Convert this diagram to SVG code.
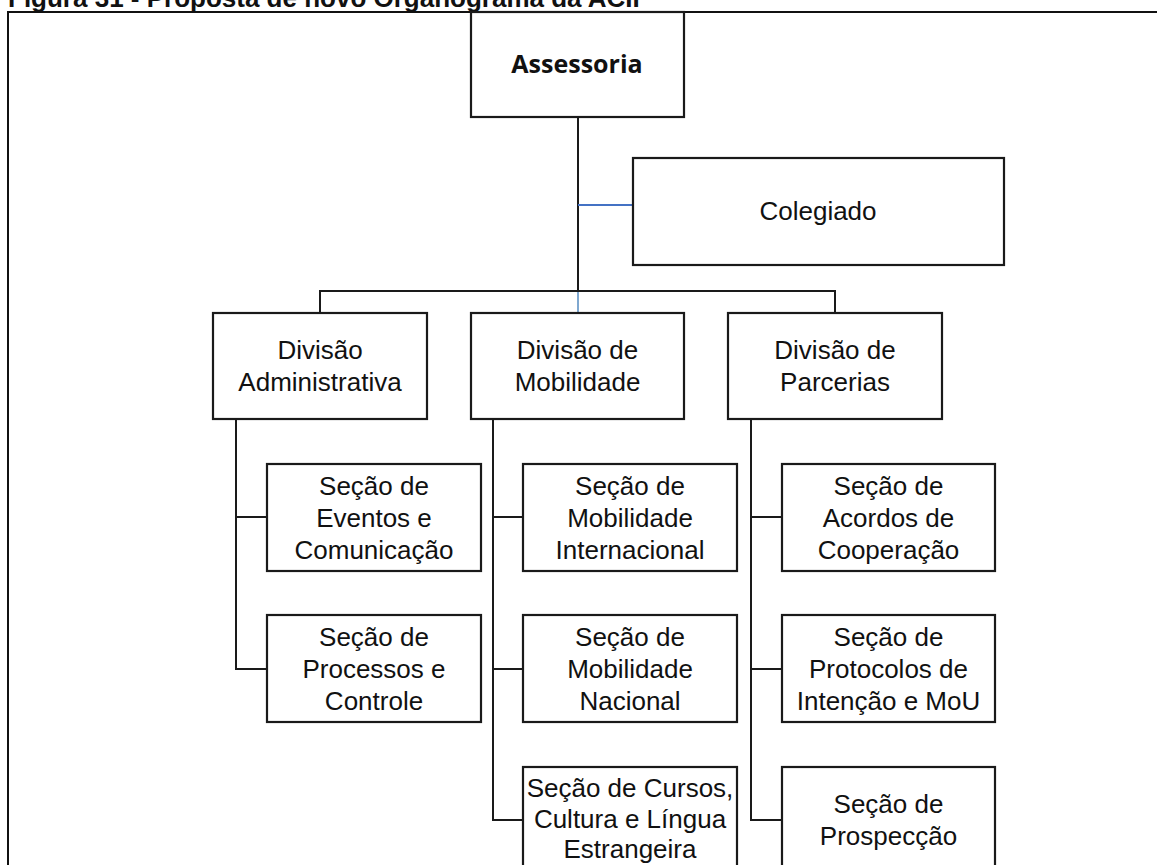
<svg xmlns="http://www.w3.org/2000/svg" width="1157" height="865" viewBox="0 0 1157 865">
<style>
.box{fill:#fff;stroke:#1a1a1a;stroke-width:2.2}
.t{font-family:"Liberation Sans",Arial,sans-serif;font-size:26px;fill:#111;text-anchor:middle}
.ln{stroke:#1a1a1a;stroke-width:2;fill:none}
</style>
<rect width="1157" height="865" fill="#fff"/>
<text x="8" y="7" font-family="Liberation Sans,Arial,sans-serif" font-size="26" font-weight="bold" fill="#111">Figura 31 - Proposta de novo Organograma da ACII</text>
<rect x="8" y="12" width="1170" height="880" fill="none" stroke="#111" stroke-width="2"/>
<g id="connectors">
<path class="ln" d="M578 117V291"/>
<path d="M578 291V313" stroke="#7fa8d0" stroke-width="2"/>
<path d="M578 205H633" stroke="#4472c4" stroke-width="2"/>
<path class="ln" d="M320 313V291H835V313"/>
<path class="ln" d="M236 419V669H267M236 517H267"/>
<path class="ln" d="M493 419V820H523M493 517H523M493 669H523"/>
<path class="ln" d="M751 419V820H782M751 517H782M751 669H782"/>
</g>
<g id="assessoria"><rect class="box" x="471" y="12" width="213" height="105"/><text x="577" y="73" font-family="Open Sans,sans-serif" font-size="25" font-weight="bold" fill="#111" text-anchor="middle">Assessoria</text></g>
<g id="colegiado"><rect class="box" x="633" y="158" width="371" height="107"/><text class="t" x="818" y="220">Colegiado</text></g>
<g id="div-adm"><rect class="box" x="213" y="313" width="214" height="106"/><text class="t" x="320" y="359">Divisão</text><text class="t" x="320" y="391">Administrativa</text></g>
<g id="div-mob"><rect class="box" x="471" y="313" width="213" height="106"/><text class="t" x="577.5" y="359">Divisão de</text><text class="t" x="577.5" y="391">Mobilidade</text></g>
<g id="div-parc"><rect class="box" x="728" y="313" width="214" height="106"/><text class="t" x="835" y="359">Divisão de</text><text class="t" x="835" y="391">Parcerias</text></g>
<g id="sec-eventos"><rect class="box" x="267" y="464" width="214" height="107"/><text class="t" x="374" y="495">Seção de</text><text class="t" x="374" y="527">Eventos e</text><text class="t" x="374" y="559">Comunicação</text></g>
<g id="sec-processos"><rect class="box" x="267" y="615" width="214" height="107"/><text class="t" x="374" y="646">Seção de</text><text class="t" x="374" y="678">Processos e</text><text class="t" x="374" y="710">Controle</text></g>
<g id="sec-mob-int"><rect class="box" x="523" y="464" width="214" height="107"/><text class="t" x="630" y="495">Seção de</text><text class="t" x="630" y="527">Mobilidade</text><text class="t" x="630" y="559">Internacional</text></g>
<g id="sec-mob-nac"><rect class="box" x="523" y="615" width="214" height="107"/><text class="t" x="630" y="646">Seção de</text><text class="t" x="630" y="678">Mobilidade</text><text class="t" x="630" y="710">Nacional</text></g>
<g id="sec-cursos"><rect class="box" x="523" y="767" width="214" height="105"/><text class="t" x="630" y="797">Seção de Cursos,</text><text class="t" x="630" y="828">Cultura e Língua</text><text class="t" x="630" y="858">Estrangeira</text></g>
<g id="sec-acordos"><rect class="box" x="782" y="464" width="213" height="107"/><text class="t" x="888.5" y="495">Seção de</text><text class="t" x="888.5" y="527">Acordos de</text><text class="t" x="888.5" y="559">Cooperação</text></g>
<g id="sec-protocolos"><rect class="box" x="782" y="615" width="213" height="107"/><text class="t" x="888.5" y="646">Seção de</text><text class="t" x="888.5" y="678">Protocolos de</text><text class="t" x="888.5" y="710">Intenção e MoU</text></g>
<g id="sec-prospeccao"><rect class="box" x="782" y="767" width="213" height="105"/><text class="t" x="888.5" y="813">Seção de</text><text class="t" x="888.5" y="845">Prospecção</text></g>
</svg>
